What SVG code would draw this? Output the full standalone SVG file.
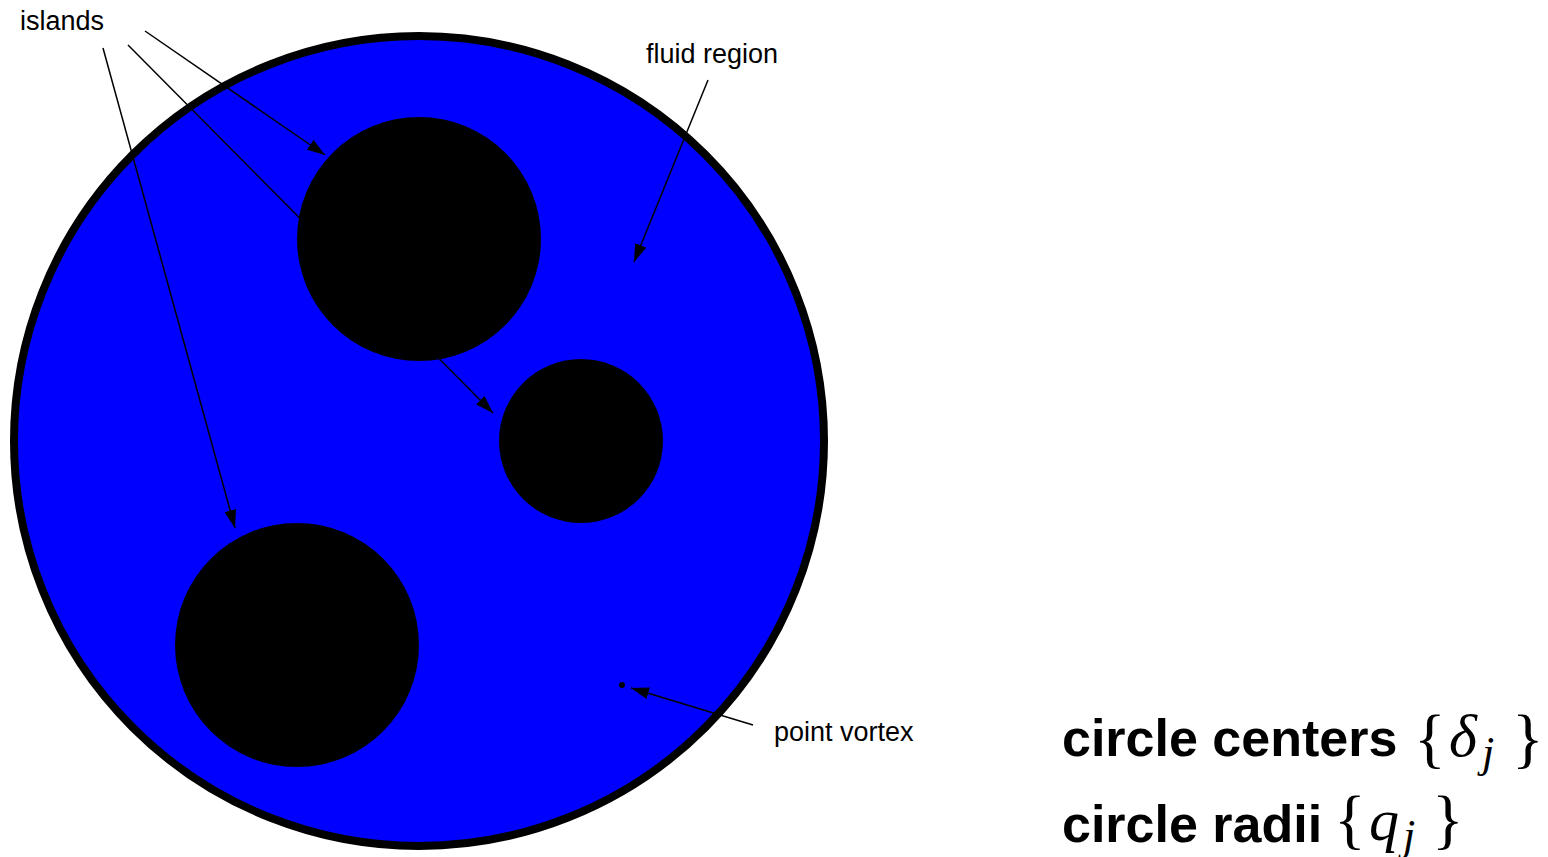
<svg xmlns="http://www.w3.org/2000/svg" width="1548" height="857" viewBox="0 0 1548 857">
<style>
.lbl{font-family:"Liberation Sans",Arial,sans-serif;font-size:27px;fill:#000}
.big{font-family:"Liberation Sans",Arial,sans-serif;font-size:52px;font-weight:bold;fill:#000}
.brace{font-family:"Liberation Serif","Times New Roman",serif;font-size:66px;fill:#000}
.mi{font-family:"Liberation Serif","Times New Roman",serif;font-style:italic;fill:#000}
.conn{stroke:#000;stroke-width:1.5;fill:none;marker-end:url(#ah)}
.island{fill:#000}
</style>
<defs>
<marker id="ah" viewBox="0 0 18 12" refX="18" refY="6" markerWidth="18" markerHeight="12" markerUnits="userSpaceOnUse" orient="auto">
<path d="M0,0 L18,6 L0,12 z" fill="#000"/>
</marker>
</defs>
<rect width="1548" height="857" fill="#fff"/>
<g id="fluid-region">
<circle cx="419" cy="441" r="405" fill="#0000ff" stroke="#000" stroke-width="8"/>
</g>
<g id="connectors">
<line class="conn" x1="145" y1="31" x2="325" y2="155"/>
<line class="conn" x1="128" y1="45" x2="493" y2="413"/>
<line class="conn" x1="103" y1="48" x2="235" y2="528"/>
<line class="conn" x1="708" y1="80" x2="634" y2="262"/>
<line class="conn" x1="753" y1="725" x2="631" y2="688"/>
</g>
<g id="island-1"><circle class="island" cx="419" cy="239" r="122"/></g>
<g id="island-2"><circle class="island" cx="581" cy="441" r="82"/></g>
<g id="island-3"><circle class="island" cx="297" cy="645" r="122"/></g>
<g id="point-vortex"><circle cx="622" cy="685" r="3" fill="#000"/></g>
<g id="labels">
<text class="lbl" x="20" y="30">islands</text>
<text class="lbl" x="646" y="63">fluid region</text>
<text class="lbl" x="774" y="741">point vortex</text>
</g>
<g id="legend">
<text class="big" x="1062" y="756">circle centers</text>
<text class="brace" x="1414" y="760">{</text>
<text class="mi" x="1449" y="756" font-size="60">δ</text>
<text class="mi" x="1482" y="767" font-size="44">j</text>
<text class="brace" x="1512" y="760">}</text>
<text class="big" x="1062" y="842">circle radii</text>
<text class="brace" x="1334" y="841">{</text>
<text class="mi" x="1369" y="840" font-size="60">q</text>
<text class="mi" x="1403" y="850" font-size="44">j</text>
<text class="brace" x="1432" y="841">}</text>
</g>
</svg>
